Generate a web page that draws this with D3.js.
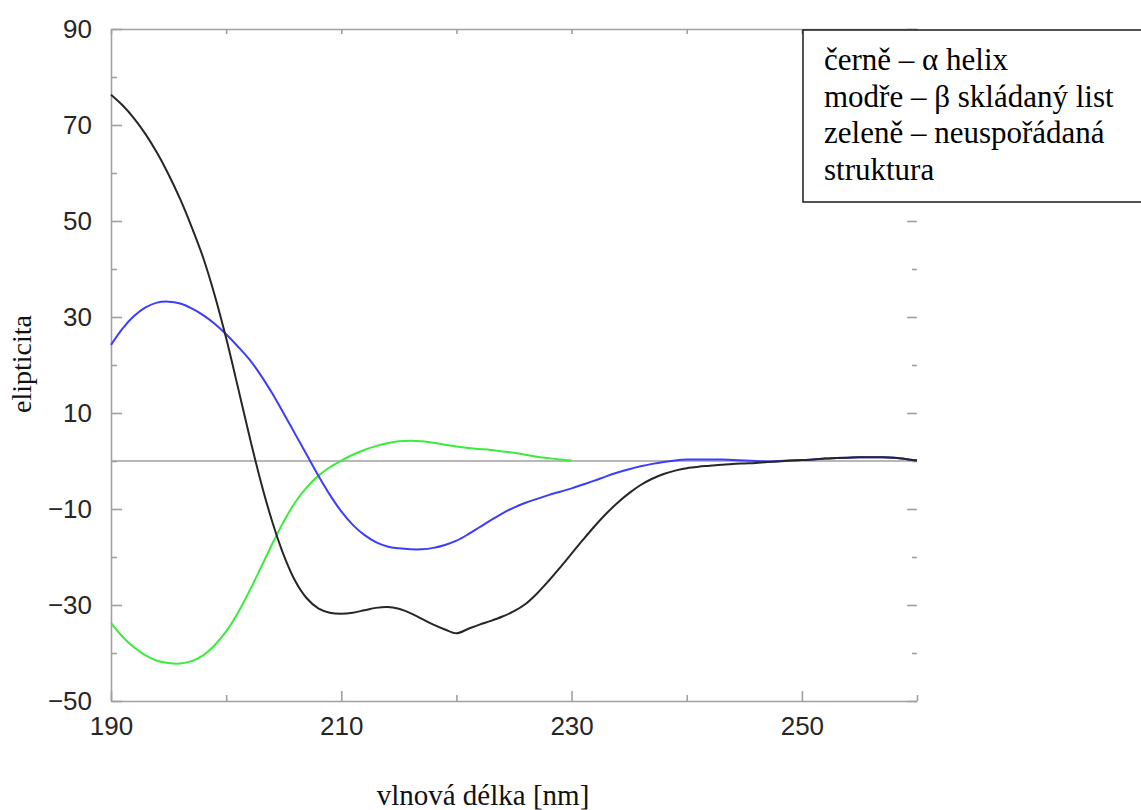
<!DOCTYPE html>
<html>
<head>
<meta charset="utf-8">
<script src="https://cdn.jsdelivr.net/npm/d3@7"></script>
<style>
  body { margin: 0; background: #fff; }
  svg { display: block; }
</style>
</head>
<body>
<svg id="chart"></svg>
<script>
// Wavelengths (nm), 1 nm steps
var wavelengths = d3.range(190, 261);

// černě – α helix
var helix = [
  76.3, 74.1, 71.4, 68.1, 64.2, 59.7, 54.6, 48.8, 42.4, 34.6,
  25.6, 15.6, 5.4, -4.2, -12.6, -19.6, -25.0, -28.6, -30.7, -31.6,
  -31.8, -31.6, -31.1, -30.6, -30.4, -30.8, -31.7, -32.9, -34.1, -35.1,
  -35.9, -35.0, -34.1, -33.3, -32.4, -31.3, -29.8, -27.6, -25.0, -22.2,
  -19.3, -16.4, -13.6, -11.0, -8.7, -6.7, -5.0, -3.7, -2.7, -2.0,
  -1.5, -1.2, -1.0, -0.8, -0.6, -0.5, -0.4, -0.2, -0.1, 0.1,
  0.2, 0.3, 0.5, 0.6, 0.7, 0.8, 0.8, 0.8, 0.7, 0.4,
  0.1
];

// modře – β skládaný list
var sheet = [
  24.2, 27.6, 30.2, 32.0, 33.0, 33.2, 32.8, 31.8, 30.4, 28.6,
  26.4, 23.9, 21.2, 17.9, 14.1, 9.9, 5.6, 1.3, -3.0, -7.0,
  -10.5, -13.3, -15.4, -16.9, -17.8, -18.2, -18.4, -18.4, -18.1, -17.5,
  -16.6, -15.3, -13.8, -12.3, -10.9, -9.7, -8.7, -7.9, -7.1, -6.4,
  -5.7, -4.9, -4.1, -3.2, -2.4, -1.7, -1.1, -0.6, -0.2, 0.1,
  0.3, 0.3, 0.3, 0.3, 0.2, 0.1, 0.0, -0.1, 0.0, 0.1,
  0.2, 0.3, 0.5, 0.6, 0.7, 0.8, 0.8, 0.8, 0.7, 0.4,
  0.1
];

// zeleně – neuspořádaná struktura (measured only to 230 nm)
var coil = [
  -33.8, -36.6, -38.8, -40.5, -41.6, -42.1, -42.2, -41.7, -40.5, -38.4,
  -35.5, -31.7, -27.2, -22.3, -17.3, -12.6, -8.6, -5.5, -3.1, -1.3,
  0.1, 1.3, 2.3, 3.1, 3.7, 4.1, 4.2, 4.1, 3.8, 3.4,
  3.0, 2.7, 2.5, 2.3, 2.0, 1.7, 1.3, 0.9, 0.6, 0.3,
  0.1
];

var xMajor = [190, 210, 230, 250];
var xMinor = [200, 220, 240, 260];
var yMajor = [-50, -30, -10, 10, 30, 50, 70, 90];
var yMinor = [-40, -20, 0, 20, 40, 60, 80];

var legendLines = [
  "černě – α helix",
  "modře – β skládaný list",
  "zeleně – neuspořádaná",
  "struktura"
];

var W = 1141, H = 810;
var plot = { left: 111, right: 917, top: 29, bottom: 701 };
var axisColor = "#a0a0a0";

var svg = d3.select("#chart").attr("width", W).attr("height", H);

var x = d3.scaleLinear().domain([190, 260]).range([plot.left, plot.right]);
var y = d3.scaleLinear().domain([-50, 90]).range([plot.bottom, plot.top]);

function styleAxis(g) {
  g.selectAll("path, line").style("stroke", axisColor).style("stroke-width", 1.6);
  g.selectAll("text")
    .style("font-family", "'Liberation Sans', Arial, Helvetica, sans-serif")
    .style("font-size", "26px")
    .style("fill", "#262626");
}

var fmt = function(d) { return d < 0 ? "\u2212" + Math.abs(d) : String(d); };

// Left axis
svg.append("g")
  .attr("transform", "translate(" + plot.left + ",0)")
  .call(d3.axisLeft(y).tickValues(yMajor).tickSize(-11).tickSizeOuter(0).tickPadding(19).tickFormat(fmt))
  .call(styleAxis);
svg.append("g")
  .attr("transform", "translate(" + plot.left + ",0)")
  .call(d3.axisLeft(y).tickValues(yMinor).tickSize(-6).tickFormat(""))
  .call(function(g) { g.select(".domain").remove(); })
  .call(styleAxis);

// Right ticks only (no line)
svg.append("g")
  .attr("transform", "translate(" + plot.right + ",0)")
  .call(d3.axisRight(y).tickValues(yMajor).tickSize(-10).tickFormat(""))
  .call(function(g) { g.select(".domain").remove(); })
  .call(styleAxis);
svg.append("g")
  .attr("transform", "translate(" + plot.right + ",0)")
  .call(d3.axisRight(y).tickValues(yMinor).tickSize(-5).tickFormat(""))
  .call(function(g) { g.select(".domain").remove(); })
  .call(styleAxis);

// Bottom axis
svg.append("g")
  .attr("transform", "translate(0," + plot.bottom + ")")
  .call(d3.axisBottom(x).tickValues(xMajor).tickSize(-10).tickSizeOuter(0).tickPadding(16).tickFormat(fmt))
  .call(styleAxis);
svg.append("g")
  .attr("transform", "translate(0," + plot.bottom + ")")
  .call(d3.axisBottom(x).tickValues(xMinor).tickSize(-6).tickFormat(""))
  .call(function(g) { g.select(".domain").remove(); })
  .call(styleAxis);

// Top axis line with small ticks
svg.append("g")
  .attr("transform", "translate(0," + plot.top + ")")
  .call(d3.axisTop(x).tickValues(xMajor.concat(xMinor)).tickSize(-5).tickSizeOuter(0).tickFormat(""))
  .call(styleAxis);

// Zero line
svg.append("line")
  .attr("x1", x(190)).attr("x2", x(260))
  .attr("y1", y(0)).attr("y2", y(0))
  .style("stroke", axisColor)
  .style("stroke-width", 1.6);

// Curves
var line = d3.line()
  .x(function(d) { return x(d[0]); })
  .y(function(d) { return y(d[1]); })
  .curve(d3.curveCatmullRom.alpha(0.5));

var series = [
  { values: coil, color: "#3cec3c" },
  { values: sheet, color: "#3c3cff" },
  { values: helix, color: "#262626" }
];

svg.selectAll("path.curve")
  .data(series)
  .enter().append("path")
  .attr("class", "curve")
  .attr("d", function(s) {
    return line(s.values.map(function(v, i) { return [wavelengths[i], v]; }));
  })
  .style("fill", "none")
  .style("stroke", function(s) { return s.color; })
  .style("stroke-width", 2);

// Axis titles
svg.append("text")
  .attr("x", 483)
  .attr("y", 805)
  .attr("text-anchor", "middle")
  .style("font-family", "'Liberation Serif', 'Times New Roman', serif")
  .style("font-size", "29px")
  .style("fill", "#111")
  .text("vlnová délka [nm]");

svg.append("text")
  .attr("transform", "translate(31,364) rotate(-90)")
  .attr("text-anchor", "middle")
  .style("font-family", "'Liberation Serif', 'Times New Roman', serif")
  .style("font-size", "28px")
  .style("fill", "#111")
  .text("elipticita");

// Legend box
var legend = svg.append("g");
legend.append("rect")
  .attr("x", 803).attr("y", 30)
  .attr("width", 360).attr("height", 172)
  .style("fill", "#fff")
  .style("stroke", "#1a1a1a")
  .style("stroke-width", 1.5);

legend.selectAll("text")
  .data(legendLines)
  .enter().append("text")
  .attr("x", 824)
  .attr("y", function(d, i) { return 70 + i * 36.5; })
  .style("font-family", "'Liberation Serif', 'Times New Roman', serif")
  .style("font-size", "31px")
  .style("fill", "#000")
  .text(function(d) { return d; });
</script>
</body>
</html>
